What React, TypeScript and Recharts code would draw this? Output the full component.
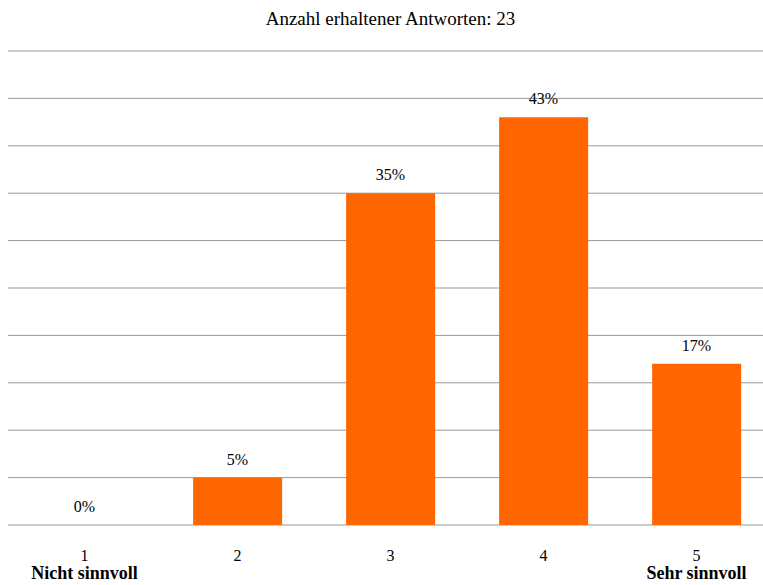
import React from 'react';
import { ComposedChart, Bar, Line, XAxis, YAxis, CartesianGrid, LabelList } from 'recharts';

const categories = ['1', '2', '3', '4', '5'];
const percents = [0, 5, 35, 43, 17];
const yTicks = [0, 5, 10, 15, 20, 25, 30, 35, 40, 45, 50];
const endLabels: Record<string, string> = { '1': 'Nicht sinnvoll', '5': 'Sehr sinnvoll' };

const data = categories.map((c, i) => ({ name: c, value: percents[i] }));

const FONT = '"Liberation Serif", "Times New Roman", serif';

const Tick = (props: any) => {
  const { x, y, payload } = props;
  const extra = endLabels[payload.value];
  return (
    <g>
      <text x={x} y={y} dy={28} textAnchor="middle" fontSize={16} fill="#000" fontFamily={FONT}>
        {payload.value}
      </text>
      {extra && (
        <text x={x} y={y} dy={46} textAnchor="middle" fontSize={18} fontWeight="bold" fill="#000" fontFamily={FONT}>
          {extra}
        </text>
      )}
    </g>
  );
};

// labels drawn from a hidden line so the 0% category gets one too
const ValueLabel = (props: any) => {
  const { x, y, value } = props;
  return (
    <text x={x} y={y - 13} textAnchor="middle" fontSize={16} fill="#000" fontFamily={FONT}>
      {`${value}%`}
    </text>
  );
};

export default function App() {
  return (
    <div style={{ position: 'absolute', left: 0, top: 0, width: 763, height: 585, overflow: 'hidden', background: '#fff' }}>
      <div
        style={{
          position: 'absolute',
          left: 0,
          width: 781,
          top: 8,
          textAlign: 'center',
          fontFamily: FONT,
          fontSize: 19,
          lineHeight: '22px',
          color: '#000',
        }}
      >
        Anzahl erhaltener Antworten: 23
      </div>
      <ComposedChart
        width={780}
        height={585}
        data={data}
        margin={{ top: 51, right: 7, bottom: 0, left: 8 }}
        barCategoryGap="21%"
      >
        <CartesianGrid horizontal vertical={false} stroke="#999" />
        <YAxis hide domain={[0, 50]} ticks={yTicks} />
        <XAxis dataKey="name" axisLine={false} tickLine={false} height={60} interval={0} tick={<Tick />} />
        <Bar dataKey="value" fill="#ff6600" isAnimationActive={false} />
        <Line
          dataKey="value"
          stroke="none"
          dot={false}
          activeDot={false}
          isAnimationActive={false}
        >
          <LabelList dataKey="value" content={<ValueLabel />} />
        </Line>
      </ComposedChart>
    </div>
  );
}
